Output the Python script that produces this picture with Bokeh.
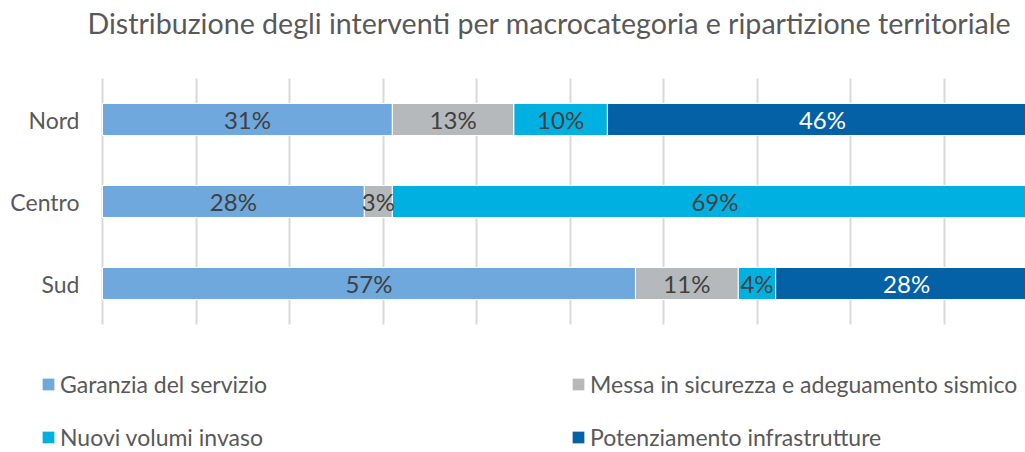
import numpy as np
from bokeh.plotting import figure
from bokeh.models import Range1d, ColumnDataSource, Legend, LegendItem, FixedTicker, Label
from bokeh.core.properties import value
from bokeh.embed import file_html
from bokeh.resources import INLINE

regions = ["Nord", "Centro", "Sud"]
series = ["Garanzia del servizio", "Messa in sicurezza e adeguamento sismico",
          "Nuovi volumi invaso", "Potenziamento infrastrutture"]
garanzia = [31, 28, 57]
messa = [13, 3, 11]
nuovi = [10, 69, 4]
potenziamento = [46, 0, 28]
colors = ["#6FA8DC", "#B6B9BB", "#00B0E0", "#0461A6"]
label_colors = ["#404040", "#404040", "#404040", "#FFFFFF"]
title_text = "Distribuzione degli interventi per macrocategoria e ripartizione territoriale"

FONT = "Lato"
TXT = "#595959"
W, H = 1025, 452
keys = ["garanzia", "messa", "nuovi", "potenziamento"]
ypos = list(range(len(regions)))
data = dict(region=regions, ypos=ypos, garanzia=garanzia, messa=messa,
            nuovi=nuovi, potenziamento=potenziamento)
source = ColumnDataSource(data)

# layout: 9.35 px per percent, bars start at 102 px; 82 px per category, first centred at 119 px
px_per_pct, x0_px = 9.35, 102
px_per_cat, y0_px = 82, 119
x_range = Range1d(-x0_px / px_per_pct, (W - x0_px) / px_per_pct)
y_range = Range1d((H - y0_px) / px_per_cat, -y0_px / px_per_cat)

p = figure(width=W, height=H, output_backend="svg", toolbar_location=None,
           x_range=x_range, y_range=y_range,
           min_border_left=0, min_border_right=0, min_border_top=0, min_border_bottom=0)
p.outline_line_color = None
p.background_fill_color = "white"
p.xaxis.visible = False
p.yaxis.visible = False

renderers = p.hbar_stack(keys, y="ypos", height=0.39, color=colors, source=source,
                         line_color="white", line_width=1)

# gridlines every 10%, limited to the bar area
p.xgrid.ticker = FixedTicker(ticks=list(range(0, 101, 10)))
p.xgrid.grid_line_color = "#D9D9D9"
p.xgrid.grid_line_width = 2
p.xgrid.cross_bounds = (-0.5, len(regions) - 0.5)
p.ygrid.grid_line_color = None
p.xgrid.level = "underlay"

# category labels
p.text(x=[0] * len(regions), y=ypos, text=regions, text_align="right", text_baseline="middle",
       x_offset=-23, text_font=value(FONT), text_font_size="23px", text_color=TXT)

# segment labels
vals = np.array([garanzia, messa, nuovi, potenziamento], dtype=float)
cum = np.cumsum(vals, axis=0)
starts = cum - vals
for i in range(len(keys)):
    xs, ys, txt = [], [], []
    for j in ypos:
        if vals[i, j] > 0:
            xs.append((starts[i, j] + cum[i, j]) / 2)
            ys.append(j)
            txt.append(f"{int(vals[i, j])}%")
    p.text(x=xs, y=ys, text=txt, text_align="center", text_baseline="middle",
           text_font=value(FONT), text_font_size="24px", text_color=label_colors[i])

# title
p.add_layout(Label(x=87, y=H - 22, x_units="screen", y_units="screen", text=title_text,
                   text_font=FONT, text_font_size="28.6px", text_color=TXT,
                   text_baseline="alphabetic", text_align="left"))

def make_legend(idx, x):
    items = [LegendItem(label=series[i], renderers=[renderers[i]]) for i in idx]
    return Legend(items=items, location=(x, 1), orientation="vertical",
                  glyph_width=16, glyph_height=16, label_standoff=4, spacing=25,
                  label_height=26, padding=0, margin=0, border_line_color=None,
                  background_fill_alpha=0, label_text_font=FONT,
                  label_text_font_size="23px", label_text_color=TXT)

p.add_layout(make_legend([0, 2], 40))
p.add_layout(make_legend([1, 3], 570))

open("out.html", "w").write(file_html(p, INLINE))
